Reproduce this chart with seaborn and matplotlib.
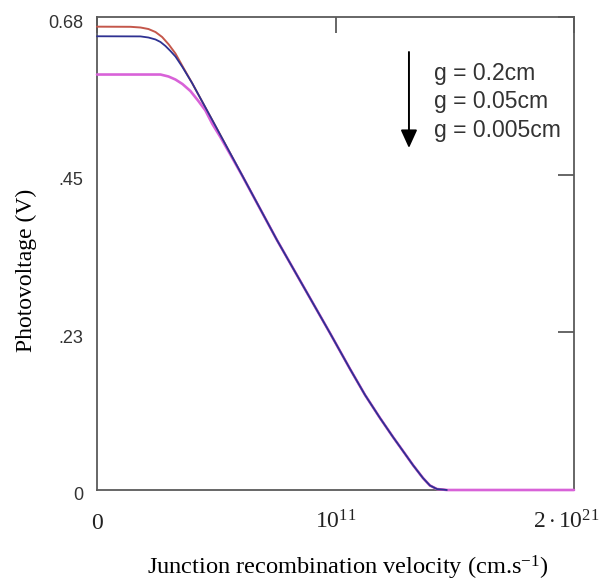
import numpy as np
import pandas as pd
import matplotlib
matplotlib.use("Agg")
import matplotlib.pyplot as plt
from matplotlib.ticker import FixedLocator, FixedFormatter, NullLocator
from matplotlib.transforms import ScaledTranslation
import seaborn as sns

# Junction recombination velocity, given as log10(Sf in cm/s), and photovoltage (V)
log_sf_02 = [0.699, 2.147, 2.578, 2.923, 3.225, 3.513, 3.798, 4.087, 4.375,
             4.806, 5.738, 6.961, 8.470, 10.767, 11.629, 12.276, 12.922, 13.483,
             13.914, 14.345, 14.776, 15.078, 15.379, 15.810]
v_02 = [0.6661, 0.6659, 0.6649, 0.6627, 0.6584, 0.6512, 0.6405, 0.6275, 0.6103,
        0.5851, 0.5281, 0.4528, 0.3594, 0.2253, 0.1739, 0.1366, 0.1035, 0.0762,
        0.0561, 0.0359, 0.0173, 0.0065, 0.0014, 0.0]

log_sf_005 = [0.699, 2.578, 2.923, 3.225, 3.440, 3.656, 3.872, 4.087, 4.375,
              4.806, 5.738, 6.961, 8.470, 10.767, 11.629, 12.276, 12.922, 13.483,
              13.914, 14.345, 14.776, 15.078, 15.379, 15.810]
v_005 = [0.6523, 0.6521, 0.6505, 0.6477, 0.6441, 0.6383, 0.6311, 0.6232, 0.6088,
         0.5851, 0.5281, 0.4528, 0.3594, 0.2253, 0.1739, 0.1366, 0.1035, 0.0762,
         0.0561, 0.0359, 0.0173, 0.0065, 0.0014, 0.0]

log_sf_0005 = [0.699, 3.440, 3.785, 4.087, 4.388, 4.733, 5.078, 5.380, 5.681,
               6.026, 6.457, 6.961, 8.470, 10.767, 11.629, 12.276, 12.922, 13.483,
               13.914, 14.345, 14.776, 15.078, 15.379, 15.810, 21.301]
v_0005 = [0.5973, 0.5973, 0.5945, 0.5901, 0.5837, 0.5736, 0.5592, 0.5457, 0.5262,
          0.5075, 0.4823, 0.4524, 0.3594, 0.2253, 0.1739, 0.1366, 0.1035, 0.0762,
          0.0561, 0.0359, 0.0173, 0.0065, 0.0014, 0.0, 0.0]

series_names = ["g = 0.2cm", "g = 0.05cm", "g = 0.005cm"]
series_colors = {"g = 0.2cm": "#c4574b", "g = 0.05cm": "#2e3192",
                 "g = 0.005cm": "#d862d8"}
draw_order = ["g = 0.2cm", "g = 0.005cm", "g = 0.05cm"]
line_widths = {"g = 0.2cm": 1.4, "g = 0.005cm": 1.9, "g = 0.05cm": 1.3}

x_ticks = [5.0, 1e11, 2e21]
x_tick_labels = ["0", r"$10^{11}$", r"$2\cdot10^{21}$"]
y_ticks = [0.0, 0.68 / 3, 2 * 0.68 / 3, 0.68]
y_tick_labels = ["0", ".23", ".45", "0.68"]

frames = []
for name, ls, vs in zip(series_names,
                        [log_sf_02, log_sf_005, log_sf_0005],
                        [v_02, v_005, v_0005]):
    frames.append(pd.DataFrame({"sf": 10.0 ** np.asarray(ls), "v": vs, "g": name}))
df = pd.concat(frames, ignore_index=True)

sns.set_theme(style="white")
plt.rcParams["mathtext.fontset"] = "custom"
plt.rcParams["mathtext.rm"] = "Liberation Serif"
plt.rcParams["mathtext.it"] = "Liberation Serif:italic"

fig = plt.figure(figsize=(6.09, 5.88), dpi=100)
ax = fig.add_axes([97 / 609, 1 - 490 / 588, 477 / 609, 473 / 588])

sns.lineplot(data=df, x="sf", y="v", hue="g", hue_order=draw_order,
             palette=series_colors, estimator=None, sort=False,
             legend=False, ax=ax)
for ln, name in zip(ax.lines, draw_order):
    ln.set_linewidth(line_widths[name])
    ln.set_zorder(4)
    ln.set_clip_on(False)

ax.set_xscale("log")
ax.set_xlim(5.0, 2e21)
ax.set_ylim(0, 0.68)
ax.xaxis.set_major_locator(FixedLocator(x_ticks))
ax.xaxis.set_major_formatter(FixedFormatter(x_tick_labels))
ax.xaxis.set_minor_locator(NullLocator())
ax.yaxis.set_major_locator(FixedLocator(y_ticks))
ax.yaxis.set_major_formatter(FixedFormatter(y_tick_labels))
ax.set_xlabel("")
ax.set_ylabel("")

for sp in ax.spines.values():
    sp.set_visible(True)
    sp.set_color("#5a5a5a")
    sp.set_linewidth(1.3)

ax.tick_params(axis="both", which="major", direction="in", length=11.5, width=1.3,
               color="#5a5a5a", top=True, right=True)
ax.tick_params(axis="y", pad=10, labelsize=13, labelcolor="#333333")
ax.tick_params(axis="x", pad=28, labelsize=17, labelcolor="#222222")

fig.canvas.draw()
for t in ax.get_yticklabels():
    t.set_fontfamily("Liberation Sans")
    t.set_transform(t.get_transform() + ScaledTranslation(0, -4 / 100, fig.dpi_scale_trans))
xlabels = ax.get_xticklabels()
for t in xlabels:
    t.set_fontfamily("Liberation Serif")
    t.set_verticalalignment("baseline")
xlabels[-1].set_transform(xlabels[-1].get_transform()
                          + ScaledTranslation(-8 / 100, 0, fig.dpi_scale_trans))

# Parameter labels with a downward arrow
ax.annotate("", xy=(0.654, 0.723), xytext=(0.654, 0.926), xycoords="axes fraction",
            arrowprops=dict(arrowstyle="-|>,head_length=0.55,head_width=0.25",
                            mutation_scale=20, lw=1.4, color="black",
                            shrinkA=0, shrinkB=0))
for i, name in enumerate(series_names):
    ax.text(0.706, 0.880 - i * 0.0595, name, transform=ax.transAxes,
            ha="left", va="center", fontsize=16.5, color="#333333",
            family="Liberation Sans")

fig.text(347.5 / 609, 1 - 568 / 588,
         r"Junction recombination velocity (cm.s$^{\mathregular{-1}}$)",
         ha="center", va="center", fontsize=17.6, family="Liberation Serif",
         color="black")
fig.text(26 / 609, 1 - 270 / 588, "Photovoltage (V)", rotation=90,
         ha="center", va="center", fontsize=17, family="Liberation Serif",
         color="black")

fig.savefig("out.png", dpi=100, facecolor="white")
